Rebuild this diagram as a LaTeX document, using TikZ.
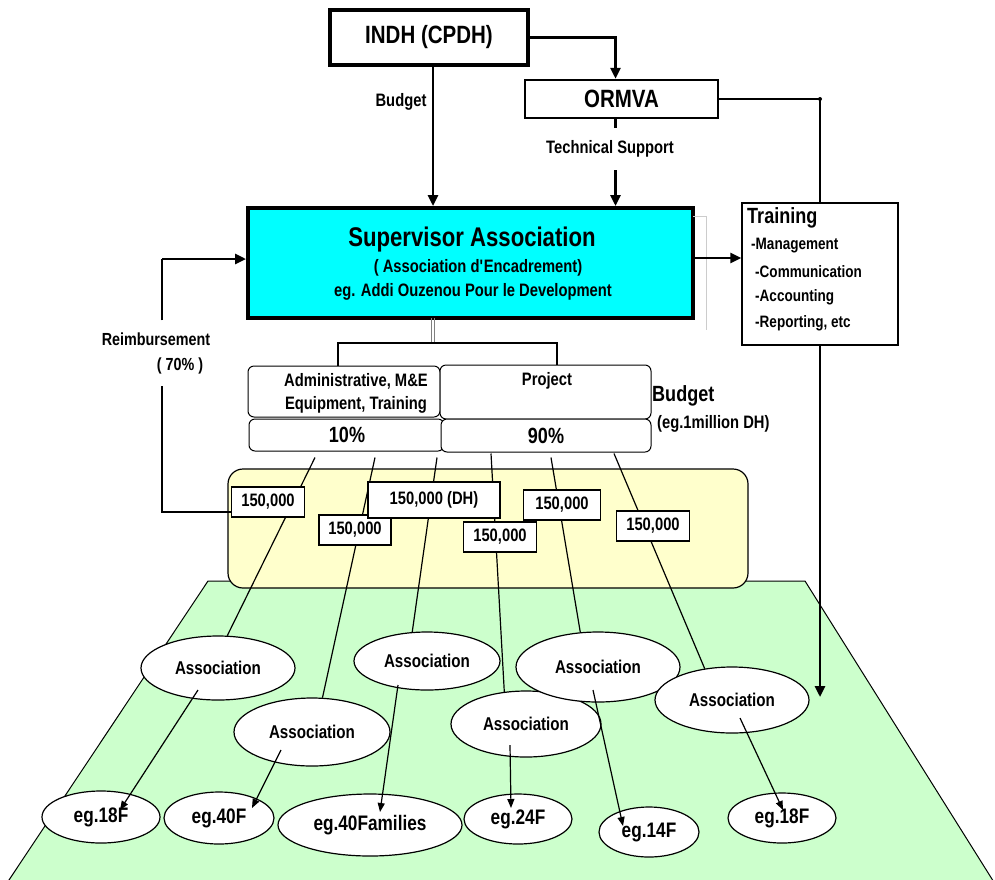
\documentclass[tikz,border=0pt]{standalone}
\usepackage{fontspec}
\setmainfont{Liberation Sans}[FakeStretch=0.82]
\usetikzlibrary{arrows.meta,calc,shapes.geometric}
\pgfdeclarelayer{back}
\pgfdeclarelayer{mid}
\pgfsetlayers{back,mid,main}
\newcommand\pxfont[1]{\fontsize{#1}{#1}\selectfont}
\definecolor{cyanbox}{RGB}{0,255,255}
\definecolor{yel}{RGB}{255,255,204}
\definecolor{grn}{RGB}{204,255,204}
\begin{document}
\begin{tikzpicture}[x=1pt,y=-1pt,
  txt/.style={inner sep=0pt,font=\bfseries\pxfont{18}},
  bigbox/.style={draw,line width=4pt,fill=white,inner sep=0pt},
  rbox/.style={draw,line width=1pt,rounded corners=6pt,fill=white,inner sep=0pt},
  money/.style={draw,line width=1.2pt,fill=white,inner sep=0pt,minimum height=30pt,font=\bfseries\pxfont{18}},
  assoc/.style={draw,ellipse,line width=1.2pt,fill=white,inner sep=0pt,font=\bfseries\pxfont{18.5}},
  fam/.style={assoc,font=\bfseries\pxfont{21}},
  thk/.style={line width=2.6pt},
  arr/.style={line width=2.6pt,-{Triangle[length=11pt,width=10pt]}},
  thin/.style={line width=1.2pt},
  sarr/.style={line width=1.2pt,-{Triangle[length=9pt,width=7pt]}}
]
\clip (0,0) rectangle (995,879);
\useasboundingbox (0,0) rectangle (995,879);

\begin{pgfonlayer}{back}
\fill[white] (0,0) rectangle (995,879);
% ground and budget band
\draw[fill=grn,line width=1pt] (208,581) -- (805,581) -- (1002,895) -- (-1,895) -- cycle;
\draw[fill=yel,line width=1.2pt,rounded corners=15pt] (228,469) rectangle (748,588);
\end{pgfonlayer}

% top boxes
\node[bigbox,minimum width=198pt,minimum height=55pt,font=\bfseries\pxfont{25}] (indh) at (429,37.5) {INDH (CPDH)};
\node[draw,line width=2.5pt,fill=white,inner sep=0pt,minimum width=193pt,minimum height=38pt,font=\bfseries\pxfont{25}] (ormva) at (621.5,99) {ORMVA};
\node[bigbox,fill=cyanbox,minimum width=445pt,minimum height=110pt] (super) at (470.5,263) {};
\node[draw,line width=1.3pt,fill=white,inner sep=0pt,minimum width=156pt,minimum height=142pt] (train) at (820,274) {};

% faint shadow lines
\draw[gray!40,line width=0.8pt] (693,216) -- (706,216) -- (706,330);
\draw[gray,line width=0.6pt] (431.5,318) -- (431.5,343) (434.5,318) -- (434.5,343);

% supervisor texts
\node[txt,font=\bfseries\pxfont{27}] (t1) at (472,240) {Supervisor Association};
\node[txt] (t2) at (478,268) {( Association d\textquotesingle Encadrement)};
\node[txt] (t3) at (473,292) {eg. Addi Ouzenou Pour le Development};

% training texts
\node[txt,anchor=west,font=\bfseries\pxfont{22}] (tr0) at (747,218) {Training};
\node[txt,anchor=west,font=\bfseries\pxfont{16.5}] (tr1) at (751,246) {-Management};
\node[txt,anchor=west,font=\bfseries\pxfont{16.5}] (tr2) at (755,272) {-Communication};
\node[txt,anchor=west,font=\bfseries\pxfont{16.5}] (tr3) at (755,297) {-Accounting};
\node[txt,anchor=west,font=\bfseries\pxfont{16.5}] (tr4) at (755,323) {-Reporting, etc};

% connectors at top
\draw[arr] (indh.east) -| ([xshift=-6pt]ormva.north);
\draw[arr] ([xshift=4pt]indh.south) -- ([xshift=4pt]indh.south |- super.north);
\node[txt,font=\bfseries\pxfont{18}] (lbud) at (401,102) {Budget};
\draw[arr] ([xshift=-6pt]ormva.south) -- ([xshift=-6pt]ormva.south |- super.north);
\node[txt,font=\bfseries\pxfont{18},fill=white,inner xsep=2pt,inner ysep=13pt] (lts) at (610,149) {Technical Support};
\draw[thk] (ormva.east) -- (ormva.east -| train.north) -- (train.north);
\fill (ormva.east -| train.north) circle (2pt);
\coordinate (tend) at (820,697);
\draw[arr] (train.south) -- (tend);
\draw[arr] ([yshift=5pt]super.east) -- ([yshift=5pt]super.east -| train.west);

% split to budget parts
\coordinate (sl) at (338,343);
\coordinate (sr) at (557,343);
\node[rbox,minimum width=192pt,minimum height=51pt] (admin) at (344,391.5) {};
\node[rbox,minimum width=211pt,minimum height=54pt] (proj) at (545.5,392) {};
\node[rbox,minimum width=195pt,minimum height=32pt] (p10) at (346.5,435) {};
\node[rbox,minimum width=210pt,minimum height=33pt] (p90) at (546,435.5) {};
\draw[thk] (sl |- admin.north) -- (sl) -- (sr) -- (sr |- proj.north);
\node[txt] (ta1) at (356,381) {Administrative, M\&E};
\node[txt] (ta2) at (356,405) {Equipment, Training};
\node[txt] (tp) at (547,381) {Project};
\node[txt,font=\bfseries\pxfont{22}] (t10) at (347,435) {10\%};
\node[txt,font=\bfseries\pxfont{22}] (t90) at (546,436) {90\%};
\node[txt,anchor=west,font=\bfseries\pxfont{22}] (tbud) at (652,396) {Budget};
\node[txt,anchor=west,font=\bfseries\pxfont{18}] (tmil) at (657,424) {(eg.1million DH)};

% money labels
\node[money,minimum width=73pt] (m1) at (268,502) {150,000};
\node[money,minimum width=72pt] (m2) at (355,530) {150,000};
\node[money,minimum width=132pt,minimum height=36pt] (m3) at (434,500) {150,000 (DH)};
\node[money,minimum width=73pt] (m4) at (500,537) {150,000};
\node[money,minimum width=77pt] (m5) at (562,505) {150,000};
\node[money,minimum width=73pt] (m6) at (653,526) {150,000};

% reimbursement loop
\node[txt,font=\bfseries\pxfont{17.5}] (re1) at (156,339) {Reimbursement};
\node[txt,font=\bfseries\pxfont{17.5}] (re2) at (180,366) {( 70\% )};
\coordinate (rt) at (162,259);
\coordinate (rb) at (162,512);
\draw[thk] ([yshift=-10pt]m1.west) -- (rb) -- ([yshift=-12pt]rb |- re2.south);
\draw[thk] ([yshift=12pt]rt |- re1.north) -- (rt);
\draw[arr] (rt) -- (rt -| super.west);

% associations
\node[assoc,minimum width=154pt,minimum height=64pt] (a1) at (218,668) {Association};
\node[assoc,minimum width=156pt,minimum height=68pt] (a2) at (312,732) {Association};
\node[assoc,minimum width=146pt,minimum height=58pt] (a3) at (427,661) {Association};
\node[assoc,minimum width=150pt,minimum height=66pt] (a4) at (526,724) {Association};
\node[assoc,minimum width=164pt,minimum height=70pt] (a5) at (598,667) {Association};
\node[assoc,minimum width=154pt,minimum height=66pt] (a6) at (732,700) {Association};

% families
\node[fam,minimum width=118pt,minimum height=52pt] (b1) at (101,817) {eg.18F};
\node[fam,minimum width=110pt,minimum height=52pt] (b2) at (219,818) {eg.40F};
\node[fam,minimum width=184pt,minimum height=62pt] (b3) at (370,825) {eg.40Families};
\node[fam,minimum width=108pt,minimum height=50pt] (b4) at (518,819) {eg.24F};
\node[fam,minimum width=100pt,minimum height=50pt] (b5) at (649,832) {eg.14F};
\node[fam,minimum width=108pt,minimum height=50pt] (b6) at (782,818) {eg.18F};

% distribution lines (behind labels and ellipses)
\begin{pgfonlayer}{mid}
\draw[thin] ([xshift=-31.5pt,yshift=-6pt]p10.south) -- (a1.74);
\draw[thin] ([xshift=28.5pt,yshift=-6pt]p10.south) -- (a2.73);
\draw[thin] ([xshift=90.5pt,yshift=-6pt]p10.south) -- (a3.117);
\draw[thin] ([xshift=-55pt,yshift=-1pt]p90.south) -- (a4.124);
\draw[thin] ([xshift=5pt,yshift=-5pt]p90.south) -- (a5.117);
\draw[thin] ([xshift=68pt,yshift=-1pt]p90.south) -- (a6.131);
\end{pgfonlayer}

% association to families
\draw[sarr] ($(a1)+(-20,22)$) -- ($(b1)+(19,-7)$);
\draw[sarr] ($(a2)+(-31,18)$) -- ($(b2)+(33,-10)$);
\draw[sarr] ($(a3)+(-29,24)$) -- ($(b3)+(10,-13)$);
\draw[sarr] ($(a4)+(-16,21)$) -- ($(b4)+(-7,-11)$);
\draw[sarr] ($(a5)+(-5,23)$) -- ($(b5)+(-26,-6)$);
\draw[sarr] ($(a6)+(8,18)$) -- ($(b6)+(1,-8)$);
\end{tikzpicture}
\end{document}
